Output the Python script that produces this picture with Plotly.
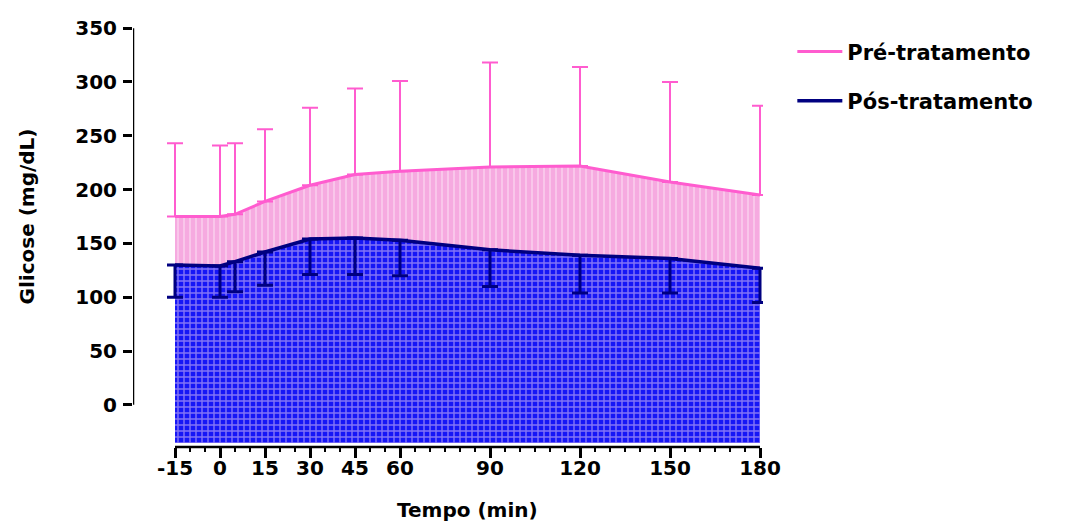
import plotly.graph_objects as go

# Glucose curve (mean ± SD) before and after treatment
time_min = [-15, 0, 5, 15, 30, 45, 60, 90, 120, 150, 180]
pre_mean = [175, 175, 177, 189, 204, 214, 217, 221, 222, 207, 195]
pre_sd = [68, 66, 66, 67, 72, 80, 84, 97, 92, 93, 83]
post_mean = [130, 129, 133, 142, 154, 155, 153, 144, 139, 136, 127]
post_sd = [30, 29, 28, 31, 33, 34, 33, 34, 35, 32, 32]

x_ticks = [-15, 0, 15, 30, 45, 60, 90, 120, 150, 180]
x_minor = list(range(-15, 181, 5))
y_ticks = [0, 50, 100, 150, 200, 250, 300, 350]

fill_floor = -35.5
PINK = "#FF5CCF"
NAVY = "#000080"
TICK_FONT = dict(family="DejaVu Sans", size=20, color="black", weight="bold")
TITLE_FONT = dict(family="DejaVu Sans", size=20, color="black", weight="bold")
LEGEND_FONT = dict(family="DejaVu Sans", size=21, color="black", weight="bold")

fig = go.Figure()

# shaded areas under each curve, down to a common floor
fig.add_trace(go.Scatter(x=[time_min[0], time_min[-1]], y=[fill_floor, fill_floor],
                         mode="lines", line=dict(width=0), showlegend=False,
                         hoverinfo="skip"))
fig.add_trace(go.Scatter(
    x=time_min, y=pre_mean, mode="lines", line=dict(width=0), fill="tonexty",
    fillpattern=dict(shape="|", bgcolor="#F6AAE0", fgcolor="#FFFFFF",
                     size=6, solidity=0.22),
    showlegend=False, hoverinfo="skip",
))
fig.add_trace(go.Scatter(x=[time_min[0], time_min[-1]], y=[fill_floor, fill_floor],
                         mode="lines", line=dict(width=0), showlegend=False,
                         hoverinfo="skip"))
fig.add_trace(go.Scatter(
    x=time_min, y=post_mean, mode="lines", line=dict(width=0), fill="tonexty",
    fillpattern=dict(shape="+", bgcolor="#1616F6", fgcolor="#EDD0F5",
                     size=6, solidity=0.42),
    showlegend=False, hoverinfo="skip",
))

# mean lines with one-sided SD bars
fig.add_trace(go.Scatter(
    x=time_min, y=pre_mean, name="Pré-tratamento", mode="lines",
    line=dict(color=PINK, width=3),
    error_y=dict(type="data", symmetric=False, array=pre_sd,
                 arrayminus=[0] * len(pre_sd), color=PINK, thickness=2,
                 width=8),
    legendgroup="pre",
))
fig.add_trace(go.Scatter(
    x=time_min, y=post_mean, name="Pós-tratamento", mode="lines",
    line=dict(color=NAVY, width=3.5),
    error_y=dict(type="data", symmetric=False, array=[0] * len(post_sd),
                 arrayminus=post_sd, color=NAVY, thickness=3, width=8),
    legendgroup="post",
))

# detached axis lines
fig.add_shape(type="line", xref="x", yref="y", x0=-29, x1=-29, y0=0, y1=350,
              line=dict(color="black", width=2.5))
fig.add_shape(type="line", xref="x", yref="paper", x0=-15, x1=180, y0=0, y1=0,
              line=dict(color="black", width=2.5))

fig.update_xaxes(
    range=[-29, 181], tickvals=x_ticks, ticktext=[str(v) for v in x_ticks],
    ticks="outside", ticklen=10, tickwidth=2.5, tickcolor="black",
    minor=dict(tickvals=x_minor, ticks="outside", ticklen=4, tickwidth=2,
               tickcolor="black"),
    showline=False, showgrid=False, zeroline=False, tickfont=TICK_FONT,
    ticklabelstandoff=-7,
)
fig.update_yaxes(
    range=[-39.2, 352], tickvals=y_ticks, ticks="outside", ticklen=9,
    tickwidth=2.5, tickcolor="black", showline=False, showgrid=False,
    zeroline=False, tickfont=TICK_FONT, ticklabelstandoff=2,
)

# axis titles centred on the drawn axis spans
fig.add_annotation(text="Tempo (min)", xref="x", yref="paper", x=82.5, y=0,
                   yshift=-63, showarrow=False, font=TITLE_FONT,
                   xanchor="center", yanchor="middle")
fig.add_annotation(text="Glicose (mg/dL)", xref="paper", yref="y", x=0, y=175,
                   xshift=-106, textangle=-90, showarrow=False, font=TITLE_FONT,
                   xanchor="center", yanchor="middle")

fig.update_layout(
    width=1078, height=523,
    margin=dict(l=133, r=315, t=26, b=76, autoexpand=False),
    plot_bgcolor="white", paper_bgcolor="white",
    showlegend=True,
    legend=dict(xref="container", yref="container", x=0.735, y=0.94,
                xanchor="left", yanchor="top", font=LEGEND_FONT, itemwidth=45,
                tracegroupgap=19, bgcolor="rgba(0,0,0,0)"),
    hovermode=False,
)

fig.write_html("out.html")
